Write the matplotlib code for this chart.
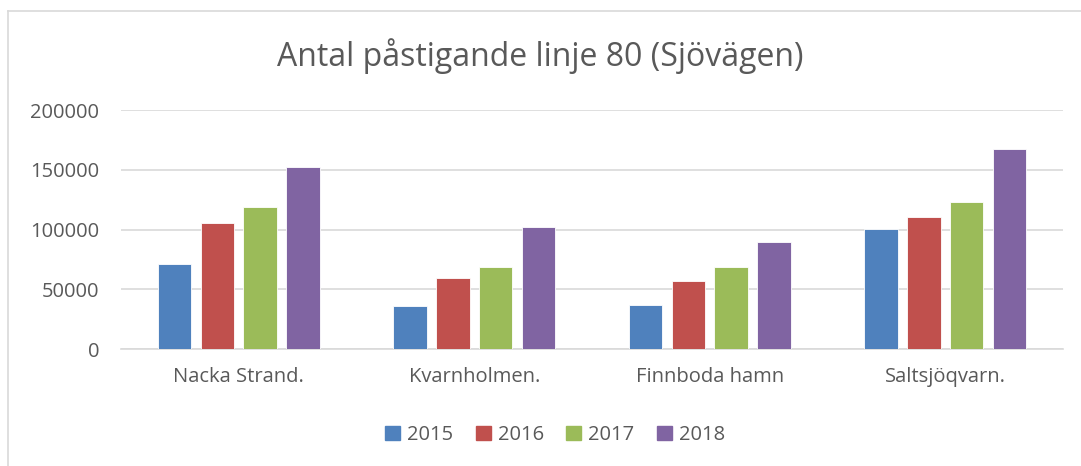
import matplotlib
matplotlib.use("Agg")
import matplotlib.pyplot as plt
from matplotlib.lines import Line2D
import numpy as np

categories = ["Nacka Strand.", "Kvarnholmen.", "Finnboda hamn", "Saltsjöqvarn."]
years = ["2015", "2016", "2017", "2018"]
v2015 = [71300, 36500, 37000, 100300]
v2016 = [105800, 59300, 56800, 110300]
v2017 = [118700, 68800, 69000, 123100]
v2018 = [152600, 102000, 89400, 167200]
series = [v2015, v2016, v2017, v2018]
colors = ["#4F81BD", "#C0504D", "#9BBB59", "#8064A2"]
yticks = [0, 50000, 100000, 150000, 200000]

plt.rcParams['font.family'] = ['Open Sans', 'DejaVu Sans']
txt = "#595959"

W, H = 1081, 466
fig = plt.figure(figsize=(W / 100, H / 100), dpi=100)
ax = fig.add_axes([121 / W, 1 - 349.3 / H, (1063 - 121) / W, (349.3 - 110) / H])

x = np.arange(len(categories))
step = 0.1817
width = 0.1427
for i, (vals, c, yr) in enumerate(zip(series, colors, years)):
    ax.bar(x + (i - 1.5) * step, vals, width, color=c, label=yr,
           edgecolor="white", linewidth=0.6, zorder=3)

ax.set_xlim(-0.5, len(categories) - 0.5)
ax.set_ylim(0, 200000)
ax.set_yticks(yticks)
ax.set_yticklabels([str(t) for t in yticks])
ax.set_xticks(x)
ax.set_xticklabels(categories)
ax.tick_params(axis="both", length=0, labelsize=14.5, colors=txt)
ax.tick_params(axis="y", pad=15.5)
ax.tick_params(axis="x", pad=13)
ax.yaxis.grid(True, color="#D9D9D9", linewidth=1.2, zorder=0)
for s in ["top", "right", "left"]:
    ax.spines[s].set_visible(False)
ax.spines["bottom"].set_color("#D9D9D9")
ax.spines["bottom"].set_linewidth(1.2)

fig.text(0.5, 1 - 56 / H, "Antal påstigande linje 80 (Sjövägen)", ha="center", va="center",
         fontsize=23, color=txt)

handles = [plt.Rectangle((0, 0), 1, 1, color=c) for c in colors]
leg = fig.legend(handles, years, loc="center", bbox_to_anchor=(555 / W, 1 - 435 / H),
                 ncol=4, frameon=False, fontsize=14.5, handlelength=0.75, handleheight=0.75,
                 columnspacing=1.1, handletextpad=0.35)
for t in leg.get_texts():
    t.set_color(txt)

# outer chart border (top and left visible)
fig.add_artist(Line2D([8 / W, 8 / W], [0, 1 - 10.5 / H], transform=fig.transFigure,
                      color="#D9D9D9", linewidth=1.2))
fig.add_artist(Line2D([8 / W, 1], [1 - 10.5 / H, 1 - 10.5 / H], transform=fig.transFigure,
                      color="#D9D9D9", linewidth=1.2))

fig.savefig("out.png", dpi=100, facecolor="white")
